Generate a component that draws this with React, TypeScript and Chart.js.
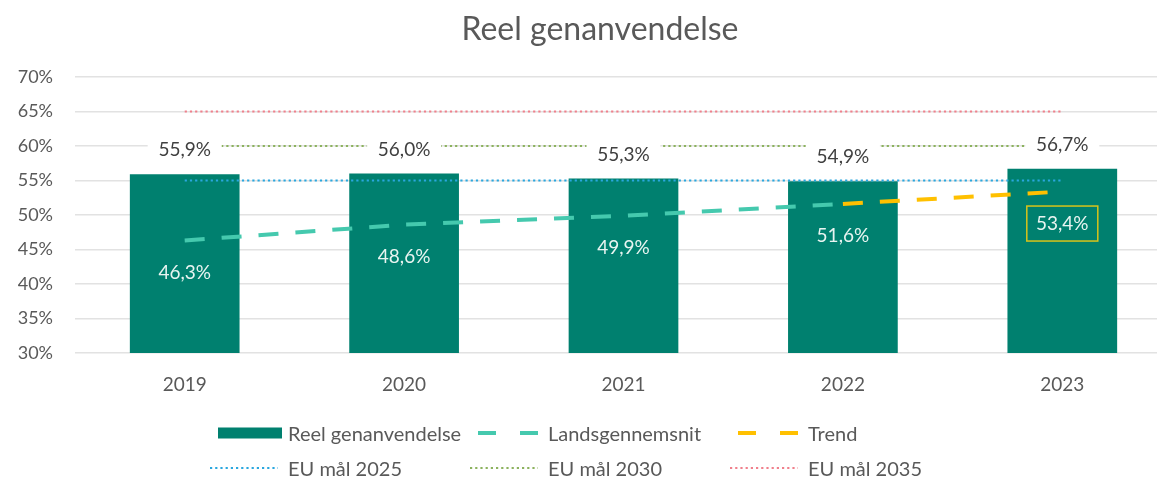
import React, { useEffect, useRef } from 'react';
import { Chart, registerables } from 'chart.js';

Chart.register(...registerables);

const FONT = 'Lato';
const TITLE = 'Reel genanvendelse';
const years = ['2019', '2020', '2021', '2022', '2023'];
const reel = [55.9, 56.0, 55.3, 54.9, 56.7];
const lands = [46.3, 48.6, 49.9, 51.6, null];
const trend = [null, null, null, 51.6, 53.4];
const eu2025 = [55, 55, 55, 55, 55];
const eu2030 = [60, 60, 60, 60, 60];
const eu2035 = [65, 65, 65, 65, 65];
const yMin = 30;
const yMax = 70;
const yStep = 5;
const seriesNames = ['Reel genanvendelse', 'Landsgennemsnit', 'Trend', 'EU mål 2025', 'EU mål 2030', 'EU mål 2035'];

const C_BAR = '#00806F';
const C_LANDS = '#45C9AE';
const C_TREND = '#FFC000';
const C_EU25 = '#2AA7DF';
const C_EU30 = '#8CB25E';
const C_EU35 = '#F0808C';
const C_TEXT = '#595959';

const fmt = (v: number) => v.toFixed(1).replace('.', ',') + '%';

const labelPlugin = {
  id: 'valueLabels',
  afterDatasetsDraw(chart: any) {
    const ctx = chart.ctx;
    ctx.save();
    ctx.font = `19px ${FONT}`;
    ctx.textAlign = 'center';
    ctx.textBaseline = 'middle';
    const barMeta = chart.getDatasetMeta(0);
    barMeta.data.forEach((el: any, i: number) => {
      const txt = fmt(reel[i]);
      const x = el.x;
      const y = el.y - 24;
      const w = 74;
      const h = 26;
      ctx.fillStyle = '#ffffff';
      ctx.fillRect(x - w / 2, y - h / 2, w, h);
      ctx.fillStyle = '#404040';
      ctx.fillText(txt, x, y);
    });
    const landsMeta = chart.getDatasetMeta(1);
    landsMeta.data.forEach((el: any, i: number) => {
      const v = lands[i];
      if (v == null) return;
      ctx.fillStyle = '#E8F4F1';
      ctx.fillText(fmt(v), el.x, el.y + 32);
    });
    const trendMeta = chart.getDatasetMeta(2);
    trendMeta.data.forEach((el: any, i: number) => {
      const v = trend[i];
      if (v == null || lands[i] != null) return;
      const y = el.y + 32;
      ctx.strokeStyle = '#D8C31A';
      ctx.lineWidth = 1.5;
      ctx.strokeRect(el.x - 35.5, y - 17.5, 71, 35);
      ctx.fillStyle = '#E8F4F1';
      ctx.fillText(fmt(v), el.x, y);
    });
    ctx.restore();
  },
};

function LegendSymbol({ kind, color }: { kind: string; color: string }) {
  if (kind === 'bar') {
    return (
      <svg width={64} height={12} style={{ display: 'block' }}>
        <rect x={0} y={0.5} width={64} height={11} fill={color} />
      </svg>
    );
  }
  if (kind === 'dash') {
    return (
      <svg width={64} height={12} style={{ display: 'block' }}>
        <line x1={0} y1={6} x2={64} y2={6} stroke={color} strokeWidth={4} strokeDasharray="18 24" />
      </svg>
    );
  }
  return (
    <svg width={68} height={12} style={{ display: 'block' }}>
      <line x1={0} y1={6} x2={68} y2={6} stroke={color} strokeWidth={2.2} strokeDasharray="2.2 3" />
    </svg>
  );
}

export default function App() {
  const ref = useRef<HTMLCanvasElement>(null);

  useEffect(() => {
    if (!ref.current) return;
    const dotted = [2.2, 3];
    const chart = new Chart(ref.current, {
      type: 'bar',
      data: {
        labels: years,
        datasets: [
          {
            type: 'bar',
            label: seriesNames[0],
            data: reel,
            backgroundColor: C_BAR,
            barPercentage: 0.5,
            categoryPercentage: 1,
            order: 10,
          },
          {
            type: 'line',
            label: seriesNames[1],
            data: lands,
            borderColor: C_LANDS,
            borderWidth: 4,
            borderDash: [20, 17],
            pointRadius: 0,
            fill: false,
            order: 2,
          },
          {
            type: 'line',
            label: seriesNames[2],
            data: trend,
            borderColor: C_TREND,
            borderWidth: 4,
            borderDash: [20, 17],
            pointRadius: 0,
            fill: false,
            order: 1,
          },
          {
            type: 'line',
            label: seriesNames[3],
            data: eu2025,
            borderColor: C_EU25,
            borderWidth: 2.2,
            borderDash: dotted,
            pointRadius: 0,
            fill: false,
            order: 5,
          },
          {
            type: 'line',
            label: seriesNames[4],
            data: eu2030,
            borderColor: C_EU30,
            borderWidth: 2.2,
            borderDash: dotted,
            pointRadius: 0,
            fill: false,
            order: 5,
          },
          {
            type: 'line',
            label: seriesNames[5],
            data: eu2035,
            borderColor: C_EU35,
            borderWidth: 2.2,
            borderDash: dotted,
            pointRadius: 0,
            fill: false,
            order: 5,
          },
        ] as any,
      },
      options: {
        responsive: false,
        animation: false,
        devicePixelRatio: 1,
        layout: { padding: { top: 77, right: 28, bottom: 81, left: 0 } },
        plugins: {
          legend: { display: false },
          title: { display: false },
          tooltip: { enabled: false },
        },
        scales: {
          x: {
            grid: { display: false },
            border: { display: false },
            ticks: { color: C_TEXT, font: { family: FONT, size: 19 }, padding: 12 },
            afterFit: (s: any) => {
              s.height = 50;
              s.paddingLeft = 0;
              s.paddingRight = 0;
            },
          },
          y: {
            min: yMin,
            max: yMax,
            ticks: {
              stepSize: yStep,
              color: C_TEXT,
              font: { family: FONT, size: 18 },
              padding: 22,
              callback: (v: any) => v + '%',
            },
            grid: { color: '#E2E2E2', lineWidth: 1.5, drawTicks: false },
            border: { display: false },
            afterFit: (s: any) => {
              s.width = 75;
              s.paddingTop = 0;
              s.paddingBottom = 0;
            },
          },
        },
      } as any,
      plugins: [labelPlugin],
    });
    return () => chart.destroy();
  }, []);

  const legendItems = [
    { name: seriesNames[0], kind: 'bar', color: C_BAR, col: 0, row: 0 },
    { name: seriesNames[1], kind: 'dash', color: C_LANDS, col: 1, row: 0 },
    { name: seriesNames[2], kind: 'dash', color: C_TREND, col: 2, row: 0 },
    { name: seriesNames[3], kind: 'dot', color: C_EU25, col: 0, row: 1 },
    { name: seriesNames[4], kind: 'dot', color: C_EU30, col: 1, row: 1 },
    { name: seriesNames[5], kind: 'dot', color: C_EU35, col: 2, row: 1 },
  ];
  const textStarts = [288, 548, 808];
  const rowCenters = [433, 468];

  return (
    <div
      style={{
        position: 'fixed',
        left: 0,
        top: 0,
        width: 1157,
        height: 484,
        overflow: 'hidden',
        background: '#ffffff',
        fontFamily: FONT,
      }}
    >
      <canvas ref={ref} width={1200} height={484} style={{ position: 'absolute', left: 0, top: 0 }} />
      <div
        style={{
          position: 'absolute',
          left: 0,
          top: 10,
          width: 1200,
          textAlign: 'center',
          fontSize: 32,
          lineHeight: '36px',
          color: C_TEXT,
        }}
      >
        {TITLE}
      </div>
      {legendItems.map((it) => {
        const symW = it.kind === 'dot' ? 68 : 64;
        const gap = it.kind === 'dot' ? 10 : 6;
        return (
          <div
            key={it.name}
            style={{
              position: 'absolute',
              left: textStarts[it.col] - symW - gap,
              top: rowCenters[it.row] - 12,
              height: 24,
              display: 'flex',
              alignItems: 'center',
              whiteSpace: 'nowrap',
              fontSize: 20,
              color: C_TEXT,
            }}
          >
            <LegendSymbol kind={it.kind} color={it.color} />
            <span style={{ marginLeft: gap }}>{it.name}</span>
          </div>
        );
      })}
    </div>
  );
}
